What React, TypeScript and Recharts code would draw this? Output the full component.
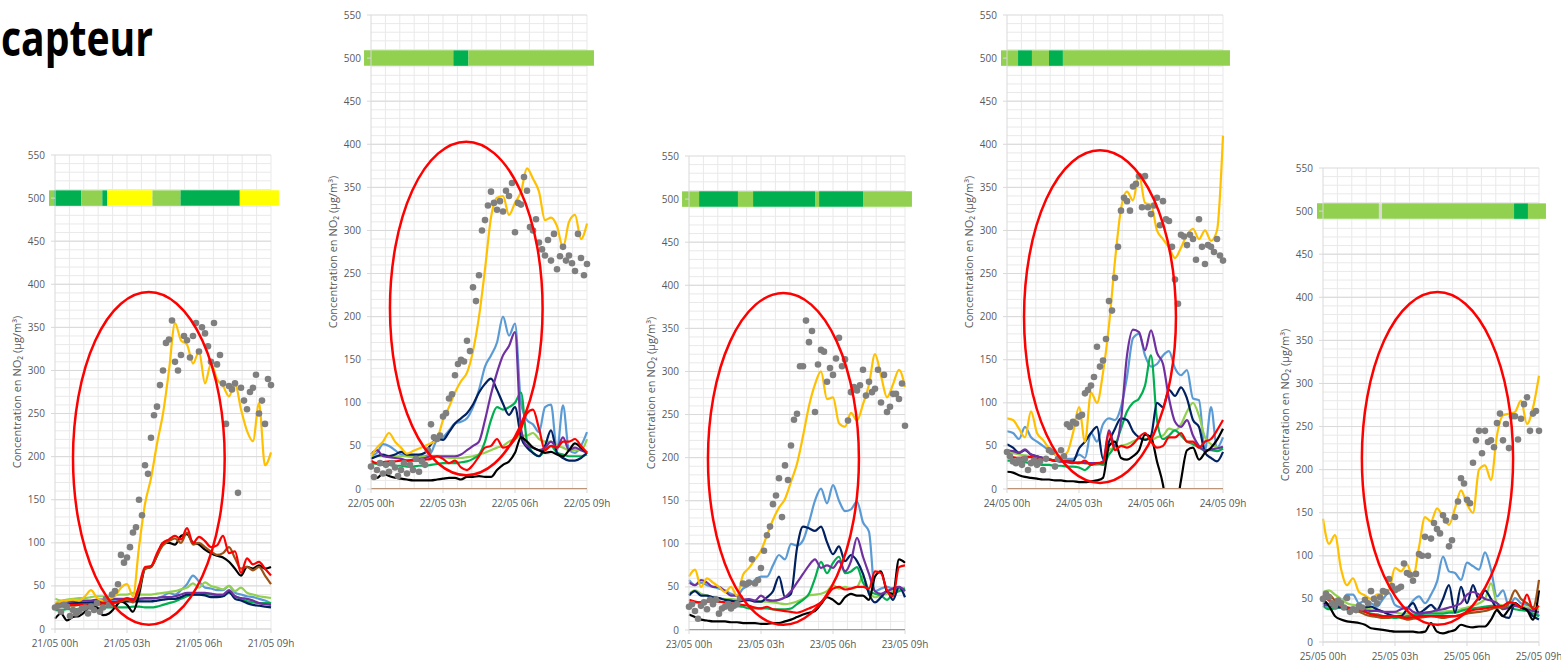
import { CartesianGrid, ComposedChart, Line, ReferenceArea, Scatter, XAxis, YAxis } from 'recharts';

// time grid (hours since 00h): lines every 15 min, reference dots every 7.5 min
const LINE_T = Array.from({ length: 37 }, (_, i) => i * 0.25);
const DOT_T = Array.from({ length: 73 }, (_, i) => i * 0.125);

const X_TICKS = [0, 3, 6, 9];
const Y_TICKS = [0, 50, 100, 150, 200, 250, 300, 350, 400, 450, 500, 550];
const MINOR_Y = Array.from({ length: 54 }, (_, i) => (i + 1) * 10);
const MINOR_X = Array.from({ length: 15 }, (_, i) => (i + 1) * 0.6);

const c1Labels = ['21/05 00h', '21/05 03h', '21/05 06h', '21/05 09h'];
const c2Labels = ['22/05 00h', '22/05 03h', '22/05 06h', '22/05 09h'];
const c3Labels = ['23/05 00h', '23/05 03h', '23/05 06h', '23/05 09h'];
const c4Labels = ['24/05 00h', '24/05 03h', '24/05 06h', '24/05 09h'];
const c5Labels = ['25/05 00h', '25/05 03h', '25/05 06h', '25/05 09h'];

// ---- 21/05 ----
const c1Dots = [25,27,20,28,26,15,22,18,21,24,25,18,26,22,30,20,25,35,28,40,44,52,86,77,83,95,112,118,150,132,190,180,222,248,258,283,300,332,336,358,310,300,318,340,335,315,340,355,322,350,343,328,310,355,307,318,285,238,282,278,285,158,280,265,255,275,280,295,250,265,238,290,283];
const c1Yellow = [30,32,33,34,33,38,45,36,33,35,38,48,52,38,95,145,175,215,250,300,355,335,330,308,322,285,308,290,282,270,285,255,230,218,262,190,205];
const c1Blue = [28,30,30,31,31,32,32,32,33,33,33,34,34,34,34,35,35,36,38,42,40,45,52,62,55,48,47,45,45,50,42,40,38,37,35,33,30];
const c1Purple = [30,31,32,32,33,33,33,34,34,34,35,35,35,35,35,36,36,36,37,37,38,40,42,42,42,42,41,40,40,45,38,36,35,33,30,29,28];
const c1Navy = [27,28,29,30,30,30,31,31,31,31,31,32,32,32,32,32,32,33,34,35,35,37,40,40,40,39,37,37,38,43,35,33,30,28,27,26,25];
const c1Green = [22,22,23,23,23,24,24,24,25,25,25,25,25,26,26,25,25,26,28,30,32,35,38,40,40,40,40,39,38,42,38,35,32,31,30,30,30];
const c1LightGreen = [35,33,34,35,36,36,37,38,38,38,39,40,40,42,40,40,40,41,42,43,44,46,48,53,48,54,50,48,46,50,44,48,42,40,38,37,36];
const c1Black = [12,18,10,14,15,20,28,25,16,18,25,32,28,20,40,70,72,85,100,100,98,108,110,100,98,92,88,85,83,78,70,62,72,70,74,70,72];
const c1Brown = [25,26,27,27,28,28,28,28,29,29,30,32,34,31,45,70,72,85,97,102,105,100,112,98,100,95,90,86,88,95,82,70,72,68,72,62,52];
const c1Red = [25,27,28,28,28,29,29,29,30,30,31,33,36,33,50,72,73,88,100,104,108,104,117,100,107,102,95,97,108,88,90,65,82,75,78,70,62];
const c1BarEdges = [-0.25, -0.04, 1.09, 1.97, 2.18, 4.06, 5.23, 7.7, 9.33];
const c1BarLevels = ['bon', 'tresBon', 'bon', 'tresBon', 'moyen', 'bon', 'tresBon', 'moyen'];
const c1Ellipse = [0.75, 7.07, 5, 391];

// ---- 22/05 ----
const c2Dots = [26,14,22,30,18,28,20,30,25,15,22,30,18,28,22,35,20,32,28,45,75,60,58,62,84,88,105,110,132,145,150,148,172,160,234,218,248,300,312,329,345,332,324,334,322,346,340,355,298,332,330,362,346,304,300,313,286,278,271,289,265,296,255,270,281,265,271,262,253,296,268,248,261];
const c2Yellow = [38,48,55,65,55,48,41,44,47,50,53,58,80,95,112,125,135,160,200,255,315,338,340,318,332,345,372,360,345,312,315,305,280,310,318,290,308];
const c2Blue = [38,42,52,50,45,40,38,38,38,38,42,57,60,68,76,78,82,95,115,142,155,170,200,178,192,100,80,75,66,95,98,45,97,45,42,50,66];
const c2Purple = [40,45,38,37,36,35,33,34,35,36,38,38,38,38,38,40,45,50,55,80,110,135,155,166,182,70,50,48,45,48,55,48,60,45,48,45,42];
const c2Navy = [35,38,40,38,40,43,40,40,40,42,52,58,57,66,76,82,88,98,112,122,128,115,99,86,95,60,48,42,38,50,68,42,36,33,33,36,42];
const c2Green = [30,29,28,28,27,27,26,26,27,27,28,29,30,30,30,31,32,35,40,55,80,95,92,95,100,112,55,42,38,45,50,42,40,38,38,38,40];
const c2LightGreen = [38,38,38,38,38,38,38,37,37,37,37,37,37,36,36,36,37,38,40,42,45,48,50,55,58,62,62,65,58,55,55,50,48,45,45,45,58];
const c2Black = [15,13,18,15,13,12,11,10,10,10,10,11,12,13,13,11,14,14,15,14,14,22,28,32,42,60,55,48,45,42,43,40,38,45,53,48,42];
const c2Brown = [0,0,0,0,0,0,0,0,0,0,0,0,0,0,0,0,0,0,0,0,0,0,0,0,0,0,0,0,0,0,0,0,0,0,0,0,0];
const c2Red = [33,30,31,32,32,33,33,33,33,34,35,38,35,30,33,25,22,28,38,48,50,58,48,50,58,70,88,92,70,45,50,48,55,55,58,50,42];
const c2BarEdges = [-0.29, 3.43, 4.06, 9.29];
const c2BarLevels = ['bon', 'tresBon', 'bon'];
const c2Ellipse = [0.79, 7.15, 16, 403];

// ---- 23/05 ----
const c3Dots = [27,30,22,13,28,32,24,35,30,35,19,25,27,30,25,28,30,37,54,53,55,82,54,58,72,92,110,120,146,156,176,131,191,174,214,244,251,306,306,359,334,347,253,308,325,323,288,304,296,315,339,306,314,243,276,282,278,284,302,272,288,276,280,302,264,296,253,259,274,274,268,286,237];
const c3Yellow = [62,70,50,60,55,50,44,50,40,64,72,82,92,110,128,142,152,172,193,225,260,285,300,268,270,240,236,252,243,262,285,320,295,270,285,302,282];
const c3Blue = [58,52,55,52,50,48,46,42,40,48,52,58,62,62,75,87,82,100,98,104,125,150,164,147,168,150,138,140,149,125,114,45,48,50,48,48,48];
const c3Purple = [55,52,58,55,50,50,45,40,40,35,36,34,40,35,34,35,38,45,55,65,75,82,72,75,72,80,68,80,107,85,65,45,42,45,48,50,45];
const c3Navy = [40,45,40,40,38,37,35,34,33,34,35,33,33,38,45,62,38,42,95,120,118,115,120,102,88,97,80,87,80,65,42,32,38,45,35,50,38];
const c3Green = [32,32,32,34,35,33,32,30,28,27,25,25,25,25,24,24,24,25,30,35,42,60,79,66,78,85,66,68,73,55,45,42,40,35,42,45,48];
const c3LightGreen = [42,46,42,40,38,37,36,36,35,35,34,34,33,33,32,31,30,31,33,36,40,41,42,45,52,48,50,48,50,62,45,38,40,42,45,47,48];
const c3Black = [18,15,12,11,10,10,10,9,9,8,8,8,7,7,8,8,10,12,15,18,20,22,30,38,35,30,38,42,40,40,35,62,68,45,42,82,78];
const c3Brown = [0,0,0,0,0,0,0,0,0,0,0,0,0,0,0,0,0,0,0,0,0,0,0,0,0,0,0,0,0,0,0,0,0,0,0,0,0];
const c3Red = [35,33,32,33,33,33,32,31,30,29,28,26,25,27,24,23,22,21,20,22,25,28,32,40,48,50,47,48,50,50,48,68,66,46,39,73,75];
const c3BarEdges = [-0.29, 0.42, 2.04, 2.67, 5.25, 5.42, 7.25, 9.29];
const c3BarLevels = ['bon', 'tresBon', 'bon', 'tresBon', 'bon', 'tresBon', 'bon'];
const c3Ellipse = [0.79, 7.08, 6, 391];

// ---- 24/05 ----
const c4Dots = [43,38,32,30,34,28,35,22,30,33,28,32,22,35,45,43,26,35,45,38,75,72,78,76,84,86,111,115,120,130,165,142,149,174,218,207,245,281,323,338,334,323,351,354,363,327,363,327,319,329,338,306,334,313,311,281,243,215,295,293,283,295,290,266,313,281,261,283,281,275,290,271,265];
const c4Yellow = [82,80,70,60,90,65,57,47,40,38,42,65,95,55,112,100,135,190,265,325,345,335,365,332,330,300,290,280,268,280,295,302,290,300,288,300,410];
const c4Blue = [67,65,58,72,60,55,50,45,40,37,35,35,40,36,65,55,75,82,80,95,130,175,180,155,142,145,155,160,140,132,138,105,103,45,95,48,60];
const c4Purple = [45,44,42,46,40,38,36,34,33,32,31,30,31,30,30,30,32,68,50,80,155,185,182,161,184,158,145,105,78,72,80,62,50,45,46,47,49];
const c4Navy = [52,48,42,45,40,38,36,34,33,32,32,32,47,55,65,72,35,55,70,82,80,67,60,57,62,100,95,115,108,118,105,80,72,42,36,32,43];
const c4Green = [33,33,32,31,30,29,28,28,27,27,26,26,25,22,28,30,28,40,50,70,90,100,105,120,155,80,58,62,68,62,55,52,48,45,45,44,47];
const c4LightGreen = [43,42,40,39,38,37,36,35,33,33,32,31,30,30,29,28,30,45,48,50,52,55,58,58,57,60,62,70,68,75,90,100,85,60,52,48,47];
const c4Black = [20,19,16,14,13,12,11,11,10,10,9,9,8,8,9,10,13,50,55,36,34,38,45,63,60,32,5,-40,-30,10,45,48,34,42,48,57,70];
const c4Brown = [0,0,0,0,0,0,0,0,0,0,0,0,0,0,0,0,0,0,0,0,0,0,0,0,0,0,0,0,0,0,0,0,0,0,0,0,0];
const c4Red = [38,37,36,37,37,35,34,34,33,33,32,31,30,33,28,30,30,65,45,50,48,52,60,65,55,48,50,60,60,65,55,55,48,55,58,68,80];
const c4BarEdges = [-0.25, 0.46, 1.04, 1.75, 2.33, 9.29];
const c4BarLevels = ['bon', 'tresBon', 'bon', 'tresBon', 'bon'];
const c4Ellipse = [0.71, 7.04, 7, 393];

// ---- 25/05 ----
const c5Dots = [50,56,52,45,42,48,45,40,51,35,38,37,42,40,49,45,59,50,45,52,59,58,73,65,60,62,64,91,80,78,71,79,102,100,122,100,120,138,131,126,147,141,111,118,145,163,190,184,165,161,208,234,245,219,245,232,234,226,254,265,234,253,225,262,262,235,259,276,284,245,265,268,245];
const c5Yellow = [143,114,124,85,66,74,58,54,50,55,56,60,86,82,90,75,110,145,140,155,145,136,155,176,160,150,200,205,188,240,263,265,267,280,253,272,309];
const c5Blue = [45,40,38,45,55,55,45,48,45,41,50,57,43,40,39,48,53,45,55,70,99,82,80,72,92,88,84,104,84,53,60,41,51,45,43,40,30];
const c5Purple = [42,44,45,42,40,39,38,37,36,36,35,35,35,38,40,35,33,34,35,37,38,40,42,45,55,58,55,50,48,45,38,40,42,40,38,36,35];
const c5Navy = [45,43,41,40,38,37,38,40,41,38,35,32,30,30,38,45,34,38,43,37,50,66,34,64,45,66,49,60,50,38,30,28,45,40,37,30,26];
const c5Green = [42,38,40,40,38,37,36,35,33,32,30,29,28,29,30,31,32,33,33,33,33,34,34,36,38,39,40,41,42,42,40,40,38,37,36,33,30];
const c5LightGreen = [58,60,55,50,45,43,42,40,38,37,35,34,34,33,33,33,33,34,34,35,35,36,36,38,40,42,45,50,68,45,42,40,42,41,40,39,38];
const c5Black = [50,42,30,26,24,23,22,20,16,15,14,13,12,12,12,12,11,12,22,12,10,12,14,20,18,17,18,18,26,37,30,38,45,40,37,26,60];
const c5Brown = [50,55,48,42,40,37,35,32,30,29,28,28,30,28,26,27,28,29,30,29,28,29,30,31,33,34,35,36,38,40,40,45,60,50,45,40,72];
const c5Red = [55,48,45,42,40,39,38,35,32,31,30,30,30,29,28,29,30,30,30,30,30,30,30,32,35,37,38,39,40,41,42,46,45,40,55,38,42];
const c5BarEdges = [-0.25, 2.33, 2.46, 7.96, 8.54, 9.29];
const c5BarLevels = ['bon', 'absent', 'bon', 'tresBon', 'bon'];
const c5Ellipse = [1.62, 7.92, 20, 406];

const LEVEL_COLORS: Record<string, string> = {
  tresBon: '#00b050',
  bon: '#92d050',
  moyen: '#ffff00',
  absent: '#d9d9d9',
};

const COLORS = {
  blue: '#5b9bd5',
  lightGreen: '#92d050',
  green: '#00b050',
  navy: '#002060',
  purple: '#7030a0',
  black: '#000000',
  brown: '#9c5216',
  red: '#ff0000',
  yellow: '#ffc000',
};

type Series = { key: string; color: string; values: number[] };

const makeSeries = (v: Record<string, number[]>): Series[] =>
  (Object.keys(COLORS) as (keyof typeof COLORS)[]).map((k) => ({ key: k, color: COLORS[k], values: v[k] }));

const tickStyle = { fill: '#595959', fontSize: 10 };

const renderDot = (p: any) => <circle cx={p.cx} cy={p.cy} r={3.3} fill="#7f7f7f" />;

const renderEllipse = (p: any) => {
  const { x, y, width, height } = p;
  return (
    <ellipse
      cx={x + width / 2}
      cy={y + height / 2}
      rx={Math.abs(width) / 2}
      ry={Math.abs(height) / 2}
      fill="none"
      stroke="#ff0000"
      strokeWidth={2.5}
    />
  );
};

type PanelProps = {
  plotLeft: number;
  plotTop: number;
  labels: string[];
  lines: Series[];
  dots: number[];
  barEdges: number[];
  barLevels: string[];
  ellipse: number[];
};

const Panel = ({ plotLeft, plotTop, labels, lines, dots, barEdges, barLevels, ellipse }: PanelProps) => {
  const rows = LINE_T.map((t, i) => {
    const row: Record<string, number> = { t };
    lines.forEach((s) => {
      row[s.key] = s.values[i];
    });
    return row;
  });
  const dotRows = DOT_T.map((t, i) => ({ t, v: dots[i] }));

  return (
    <>
      <div style={{ position: 'absolute', left: plotLeft - 55, top: plotTop - 10 }}>
        <ComposedChart width={301} height={514} data={rows} margin={{ top: 10, right: 30, bottom: 0, left: 15 }}>
          <CartesianGrid horizontalValues={MINOR_Y} verticalValues={MINOR_X} stroke="#e9e9e9" />
          <CartesianGrid horizontalValues={Y_TICKS} vertical={false} stroke="#d9d9d9" />
          <XAxis
            type="number"
            dataKey="t"
            domain={[0, 9]}
            ticks={X_TICKS}
            interval={0}
            tickFormatter={(v) => labels[X_TICKS.indexOf(v)]}
            height={30}
            tick={tickStyle}
            tickSize={4}
            tickMargin={7}
            stroke="#d9d9d9"
          />
          <YAxis
            type="number"
            domain={[0, 550]}
            ticks={Y_TICKS}
            interval={0}
            allowDataOverflow
            width={40}
            tick={tickStyle}
            tickSize={4}
            tickMargin={6}
            stroke="#d9d9d9"
          />
          {barLevels.map((lvl, i) => (
            <ReferenceArea
              key={`bar-${i}`}
              x1={barEdges[i]}
              x2={barEdges[i + 1]}
              y1={491}
              y2={509}
              fill={LEVEL_COLORS[lvl]}
              fillOpacity={1}
              stroke="none"
              ifOverflow="visible"
            />
          ))}
          <Scatter data={dotRows} dataKey="v" shape={renderDot} isAnimationActive={false} />
          {lines.map((s) => (
            <Line
              key={s.key}
              dataKey={s.key}
              type="monotone"
              stroke={s.color}
              strokeWidth={2.2}
              dot={false}
              activeDot={false}
              isAnimationActive={false}
            />
          ))}
          <ReferenceArea
            x1={ellipse[0]}
            x2={ellipse[1]}
            y1={ellipse[2]}
            y2={ellipse[3]}
            shape={renderEllipse}
            ifOverflow="visible"
            zIndex={2000}
          />
        </ComposedChart>
      </div>
      <div
        style={{
          position: 'absolute',
          left: plotLeft - 38 - 150,
          top: plotTop + 237 - 8,
          width: 300,
          height: 16,
          lineHeight: '16px',
          textAlign: 'center',
          fontSize: 11,
          color: '#595959',
          transform: 'rotate(-90deg)',
          whiteSpace: 'nowrap',
        }}
      >
        Concentration en NO₂ (µg/m³)
      </div>
    </>
  );
};

const App = () => {
  return (
    <div
      style={{
        position: 'absolute',
        left: 0,
        top: 0,
        width: 1561,
        height: 666,
        overflow: 'hidden',
        background: '#ffffff',
        fontFamily: '"Open Sans", sans-serif',
      }}
    >
      <svg width={320} height={80} style={{ position: 'absolute', left: 0, top: 0 }}>
        <text x={1} y={56} fontSize={50} fontWeight={700} fontFamily="Open Sans" textLength={152} lengthAdjust="spacingAndGlyphs" fill="#000">
          capteur
        </text>
      </svg>
      <Panel
        plotLeft={55}
        plotTop={155}
        labels={c1Labels}
        dots={c1Dots}
        lines={makeSeries({ blue: c1Blue, lightGreen: c1LightGreen, green: c1Green, navy: c1Navy, purple: c1Purple, black: c1Black, brown: c1Brown, red: c1Red, yellow: c1Yellow })}
        barEdges={c1BarEdges}
        barLevels={c1BarLevels}
        ellipse={c1Ellipse}
      />
      <Panel
        plotLeft={371}
        plotTop={15}
        labels={c2Labels}
        dots={c2Dots}
        lines={makeSeries({ blue: c2Blue, lightGreen: c2LightGreen, green: c2Green, navy: c2Navy, purple: c2Purple, black: c2Black, brown: c2Brown, red: c2Red, yellow: c2Yellow })}
        barEdges={c2BarEdges}
        barLevels={c2BarLevels}
        ellipse={c2Ellipse}
      />
      <Panel
        plotLeft={689}
        plotTop={156}
        labels={c3Labels}
        dots={c3Dots}
        lines={makeSeries({ blue: c3Blue, lightGreen: c3LightGreen, green: c3Green, navy: c3Navy, purple: c3Purple, black: c3Black, brown: c3Brown, red: c3Red, yellow: c3Yellow })}
        barEdges={c3BarEdges}
        barLevels={c3BarLevels}
        ellipse={c3Ellipse}
      />
      <Panel
        plotLeft={1007}
        plotTop={15}
        labels={c4Labels}
        dots={c4Dots}
        lines={makeSeries({ blue: c4Blue, lightGreen: c4LightGreen, green: c4Green, navy: c4Navy, purple: c4Purple, black: c4Black, brown: c4Brown, red: c4Red, yellow: c4Yellow })}
        barEdges={c4BarEdges}
        barLevels={c4BarLevels}
        ellipse={c4Ellipse}
      />
      <Panel
        plotLeft={1323}
        plotTop={168}
        labels={c5Labels}
        dots={c5Dots}
        lines={makeSeries({ blue: c5Blue, lightGreen: c5LightGreen, green: c5Green, navy: c5Navy, purple: c5Purple, black: c5Black, brown: c5Brown, red: c5Red, yellow: c5Yellow })}
        barEdges={c5BarEdges}
        barLevels={c5BarLevels}
        ellipse={c5Ellipse}
      />
    </div>
  );
};

export default App;
